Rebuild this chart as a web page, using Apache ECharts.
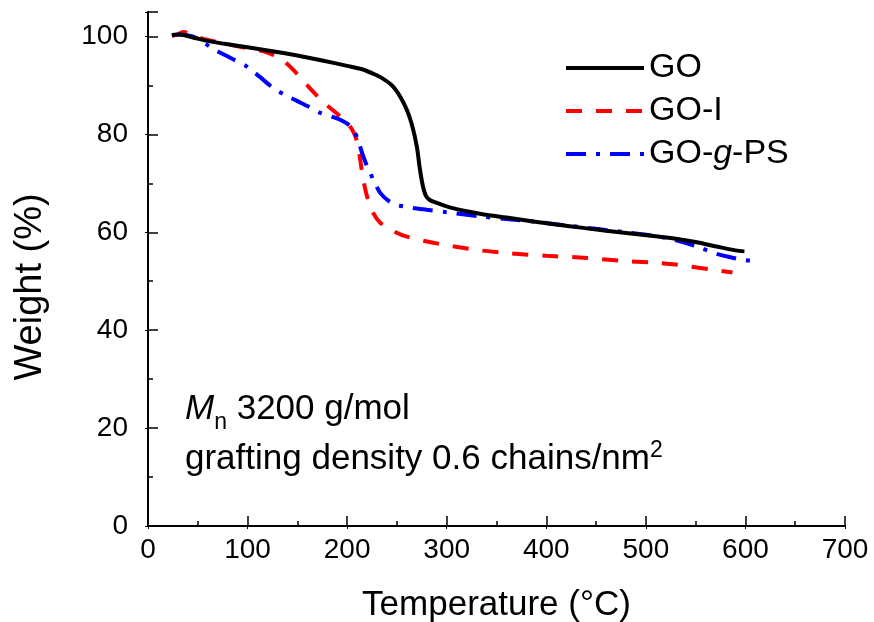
<!DOCTYPE html>
<html lang="en">
<head>
    <meta charset="UTF-8">
    <title>TGA</title>
    <script src="https://cdn.jsdelivr.net/npm/echarts@6/dist/echarts.min.js"></script>
    <style>
        body { margin: 0; background: #fff; }
        #main { width: 874px; height: 622px; }
    </style>
</head>
<body>
<div id="main"></div>
<script>
    // temperature (°C), weight (%)
    const goData = [
        [24, 100.3], [32, 100.4], [45, 99.8], [60, 99.1], [80, 98.4], [100, 97.8], [125, 97.0],
        [150, 96.1], [175, 95.1], [200, 94.0], [215, 93.3], [226, 92.4], [235, 91.5], [245, 90.0],
        [253, 87.8], [260, 85.0], [265, 82.0], [270, 77.5], [273, 73.0], [276, 69.5], [279, 67.5],
        [283, 66.6], [290, 66.0], [303, 65.1], [320, 64.3], [336, 63.7], [360, 63.0], [387, 62.2],
        [410, 61.6], [437, 60.9], [460, 60.3], [487, 59.7], [510, 59.2], [530, 58.7], [550, 58.0],
        [571, 57.1], [590, 56.3], [599, 56.1]
    ];
    const goIData = [
        [24, 100.1], [30, 100.5], [36, 100.9], [45, 100.2], [60, 99.3], [80, 98.4], [100, 97.6],
        [115, 97.0], [125, 96.3], [135, 95.2], [143, 93.8], [150, 92.3], [160, 90.0], [176, 86.6],
        [190, 84.2], [200, 82.4], [206, 80.6], [210, 78.5], [213, 75.0], [216, 71.0], [220, 67.3],
        [226, 64.0], [233, 62.0], [245, 60.4], [260, 59.1], [293, 57.6], [330, 56.4], [363, 55.7],
        [400, 55.2], [437, 54.8], [474, 54.2], [507, 53.8], [530, 53.4], [544, 53.0], [565, 52.4],
        [587, 51.8]
    ];
    const goPSData = [
        [30, 100.4], [45, 100.0], [57, 98.6], [69, 97.1], [84, 95.5], [99, 93.9], [112, 91.8],
        [125, 89.6], [138, 88.0], [150, 86.8], [162, 85.6], [173, 84.4], [185, 83.6], [193, 83.0],
        [200, 82.2], [206, 81.0], [211, 78.8], [215, 76.2], [219, 74.0], [223, 72.2], [228, 70.0],
        [233, 68.1], [241, 66.5], [250, 65.6], [265, 65.0], [280, 64.6], [300, 64.1], [336, 63.2],
        [360, 62.7], [387, 62.2], [420, 61.4], [450, 60.7], [480, 60.0], [514, 59.1], [537, 58.0],
        [555, 56.8], [571, 55.6], [585, 54.9], [597, 54.4], [611, 54.0]
    ];
    const seriesNames = ['GO', 'GO-I', 'GO-g-PS'];

    const font = 'Liberation Sans, Arial, sans-serif';
    let myChart = echarts.init(document.getElementById('main'));

    let tickStyle = { color: '#000', width: 1.5 };

    let option = {
        animation: false,
        backgroundColor: '#fff',
        grid: { left: 148, right: 29, top: 12, bottom: 96, outerBoundsMode: 'none' },
        legend: {
            orient: 'vertical',
            left: 564,
            top: 51,
            padding: 0,
            itemWidth: 78,
            itemHeight: 14,
            itemGap: 9,
            data: seriesNames,
            itemStyle: { opacity: 0 },
            lineStyle: { width: 4 },
            textStyle: {
                fontFamily: font, fontSize: 34, color: '#000',
                rich: {
                    a: { fontFamily: font, fontSize: 34, color: '#000' },
                    b: { fontFamily: font, fontSize: 34, color: '#000', fontStyle: 'italic' }
                }
            },
            formatter: function (name) {
                return name === 'GO-g-PS' ? '{a|GO-}{b|g}{a|-PS}' : name;
            }
        },
        xAxis: [
            {
                type: 'value', min: 0, max: 700, interval: 100,
                name: 'Temperature (°C)', nameLocation: 'middle', nameGap: 62,
                nameTextStyle: { fontFamily: font, fontSize: 35, color: '#000' },
                axisLine: { show: true, lineStyle: { color: '#000', width: 2 } },
                splitLine: { show: false },
                axisTick: { show: true, inside: true, length: 10, lineStyle: tickStyle },
                minorTick: { show: true, splitNumber: 2, length: 5, lineStyle: tickStyle },
                axisLabel: { fontFamily: font, fontSize: 28, color: '#000', margin: 10 }
            },
            {
                type: 'value', min: 0, max: 700, interval: 100, position: 'top',
                axisLine: { show: true, lineStyle: { color: '#000', width: 2 } },
                splitLine: { show: false },
                axisTick: { show: true, inside: true, length: 3, lineStyle: { color: '#000' } },
                axisLabel: { show: false }
            }
        ],
        yAxis: [
            {
                type: 'value', min: 0, max: 105, interval: 20,
                name: 'Weight (%)', nameLocation: 'middle', nameGap: 98,
                nameTextStyle: { fontFamily: font, fontSize: 38, color: '#000', padding: [0, 36, 0, 0] },
                axisLine: { show: true, lineStyle: { color: '#000', width: 2 } },
                splitLine: { show: false },
                axisTick: { show: true, inside: true, length: 10, lineStyle: tickStyle },
                minorTick: { show: true, splitNumber: 2, length: 5, lineStyle: tickStyle },
                axisLabel: {
                    fontFamily: font, fontSize: 28, color: '#000', margin: 20,
                    showMaxLabel: false
                }
            },
            {
                type: 'value', min: 0, max: 105, interval: 20, position: 'right',
                axisLine: { show: true, lineStyle: { color: '#000', width: 2 } },
                splitLine: { show: false },
                axisTick: { show: true, inside: true, length: 3, lineStyle: { color: '#000' } },
                axisLabel: { show: false }
            }
        ],
        series: [
            {
                name: 'GO', type: 'line', data: goData, symbol: 'none', smooth: 0.3,
                lineStyle: { color: '#000', width: 4 }, itemStyle: { color: '#000' }, z: 3
            },
            {
                name: 'GO-I', type: 'line', data: goIData, symbol: 'none', smooth: 0.3,
                lineStyle: { color: '#ff0000', width: 4, type: [16, 14] }, itemStyle: { color: '#ff0000' }, z: 2
            },
            {
                name: 'GO-g-PS', type: 'line', data: goPSData, symbol: 'none', smooth: 0.3,
                lineStyle: { color: '#0000ff', width: 4, type: [20, 10, 4, 10] }, itemStyle: { color: '#0000ff' }, z: 2
            }
        ],
        graphic: [
            {
                type: 'text', left: 185, top: 392,
                style: {
                    text: '{m|M}{s|n}{t| 3200 g/mol}',
                    rich: {
                        m: { fontFamily: font, fontSize: 35, lineHeight: 50, fontStyle: 'italic', fill: '#000' },
                        s: { fontFamily: font, fontSize: 23, lineHeight: 29, fill: '#000', verticalAlign: 'bottom' },
                        t: { fontFamily: font, fontSize: 35, lineHeight: 50, fill: '#000' }
                    }
                }
            },
            {
                type: 'text', left: 185, top: 437,
                style: {
                    text: '{t|grafting density 0.6 chains/nm}{p|2}',
                    rich: {
                        t: { fontFamily: font, fontSize: 35, lineHeight: 44, fill: '#000' },
                        p: { fontFamily: font, fontSize: 23, lineHeight: 22, fill: '#000', verticalAlign: 'top', padding: [2, 0, 0, 0] }
                    }
                }
            }
        ]
    };
    myChart.setOption(option);
</script>
</body>
</html>
